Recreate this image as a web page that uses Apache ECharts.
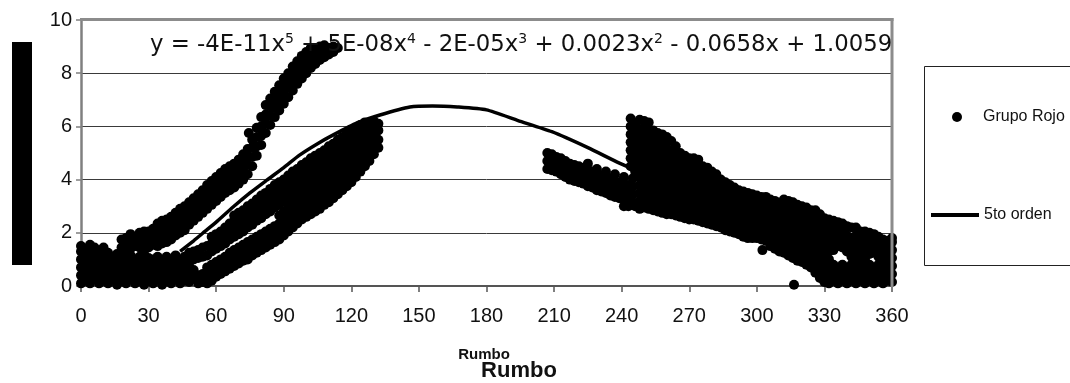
<!DOCTYPE html>
<html>
<head>
<meta charset="utf-8">
<script src="https://cdn.jsdelivr.net/npm/echarts@6.0.0/dist/echarts.min.js"></script>
<style>
  html, body { margin: 0; padding: 0; background: #fff; }
  #chart { width: 1070px; height: 383px; }
</style>
</head>
<body>
<div id="chart"></div>
<script>
// Axis ticks
const rumboTicks = [0, 30, 60, 90, 120, 150, 180, 210, 240, 270, 300, 330, 360];
const valorTicks = [0, 2, 4, 6, 8, 10];

// Observations of "Grupo Rojo", one column per rumbo: [rumbo, value, value, ...]
const bajo = [
  [0, 0.1, 0.4, 0.7, 1.0, 1.3, 1.5], [2, 0.2, 0.5, 0.8, 1.1, 1.4], [4, 0.1, 0.4, 0.7, 1.0, 1.3, 1.55],
  [6, 0.25, 0.55, 0.85, 1.15, 1.45], [8, 0.1, 0.4, 0.7, 1.0, 1.3], [10, 0.2, 0.5, 0.8, 1.1, 1.45],
  [12, 0.1, 0.4, 0.7, 1.0, 1.25], [14, 0.25, 0.55, 0.85, 1.1], [16, 0.05, 0.35, 0.65, 0.95, 1.2],
  [18, 0.2, 0.5, 0.8, 1.1], [20, 0.1, 0.4, 0.7, 1.0, 1.25], [22, 0.25, 0.55, 0.85, 1.15],
  [24, 0.1, 0.4, 0.7, 1.0], [26, 0.2, 0.5, 0.8, 1.1], [28, 0.05, 0.35, 0.65, 0.95, 1.2],
  [30, 0.2, 0.5, 0.8, 1.05], [32, 0.1, 0.4, 0.7, 1.0], [34, 0.25, 0.55, 0.85, 1.1],
  [36, 0.05, 0.35, 0.65, 0.95], [38, 0.2, 0.5, 0.8, 1.1], [40, 0.1, 0.4, 0.7, 1.0],
  [42, 0.25, 0.55, 0.85, 1.15], [44, 0.1, 0.4, 0.7, 1.0], [46, 0.2, 0.5, 0.8, 1.1],
  [48, 0.15, 0.45, 0.75], [50, 0.3, 0.6]
];
const ramaAlta = [
  [18, 1.45, 1.75], [20, 1.5, 1.8], [22, 1.4, 1.7, 1.95], [24, 1.5, 1.8], [26, 1.45, 1.75, 2.0],
  [28, 1.5, 1.8, 2.05], [30, 1.45, 1.75, 2.05], [32, 1.55, 1.85, 2.15], [34, 1.5, 1.8, 2.1, 2.35],
  [36, 1.6, 1.9, 2.2, 2.45], [38, 1.65, 1.95, 2.25, 2.5], [40, 1.75, 2.05, 2.35, 2.6],
  [42, 1.9, 2.2, 2.5, 2.75], [44, 2.0, 2.3, 2.6, 2.9], [46, 2.1, 2.4, 2.7, 3.0],
  [48, 2.3, 2.6, 2.9, 3.15], [50, 2.45, 2.75, 3.05, 3.3], [52, 2.6, 2.9, 3.2, 3.45],
  [54, 2.75, 3.05, 3.35, 3.6], [56, 2.9, 3.2, 3.5, 3.8], [58, 3.05, 3.35, 3.65, 3.95],
  [60, 3.2, 3.5, 3.8, 4.1], [62, 3.35, 3.65, 3.95, 4.25], [64, 3.5, 3.8, 4.1, 4.4],
  [66, 3.6, 3.9, 4.2, 4.5], [68, 3.7, 4.0, 4.3, 4.6], [70, 3.85, 4.15, 4.45, 4.75],
  [72, 4.0, 4.3, 4.65, 4.95], [74, 4.2, 4.55, 4.85, 5.15], [76, 4.5, 4.85, 5.2, 5.5],
  [78, 4.9, 5.25, 5.6, 5.95], [80, 5.3, 5.65, 6.0, 6.35], [82, 5.75, 6.1, 6.45, 6.8],
  [84, 6.05, 6.4, 6.75, 7.05], [86, 6.35, 6.7, 7.0, 7.3], [88, 6.6, 6.95, 7.25, 7.55],
  [90, 6.85, 7.2, 7.5, 7.8], [92, 7.1, 7.45, 7.75, 8.0], [94, 7.35, 7.7, 8.0, 8.25],
  [96, 7.6, 7.9, 8.2, 8.45], [98, 7.8, 8.1, 8.4, 8.65], [100, 8.0, 8.3, 8.6, 8.8],
  [102, 8.2, 8.5, 8.75, 8.95], [104, 8.35, 8.65, 8.9], [106, 8.5, 8.75, 9.0],
  [108, 8.6, 8.85, 9.05], [110, 8.7, 8.95], [112, 8.8, 9.0], [114, 8.95]
];
const ramaMedia = [
  [48, 0.95, 1.25], [50, 1.0, 1.3], [52, 1.05, 1.35], [54, 1.1, 1.45], [56, 1.15, 1.5],
  [58, 1.3, 1.6, 1.85], [60, 1.4, 1.7, 1.95], [62, 1.5, 1.8, 2.05], [64, 1.6, 1.9, 2.2],
  [66, 1.75, 2.05, 2.35], [68, 1.85, 2.15, 2.45, 2.65], [70, 1.95, 2.25, 2.55, 2.75],
  [72, 2.05, 2.35, 2.65, 2.85], [74, 2.2, 2.5, 2.8, 3.0], [76, 2.3, 2.6, 2.9, 3.1],
  [78, 2.45, 2.75, 3.05, 3.25], [80, 2.55, 2.85, 3.15, 3.4], [82, 2.7, 3.0, 3.3, 3.5],
  [84, 2.8, 3.1, 3.4, 3.65], [86, 2.95, 3.25, 3.55, 3.8], [88, 3.05, 3.35, 3.65, 3.9],
  [90, 3.2, 3.5, 3.8, 4.0], [92, 3.3, 3.6, 3.9, 4.15], [94, 3.45, 3.75, 4.05, 4.3],
  [96, 3.55, 3.85, 4.15, 4.4], [98, 3.7, 4.0, 4.3, 4.55], [100, 3.8, 4.1, 4.4, 4.65],
  [102, 3.95, 4.25, 4.55, 4.8], [104, 4.05, 4.35, 4.65, 4.9], [106, 4.2, 4.5, 4.8, 5.0],
  [108, 4.3, 4.6, 4.9, 5.1], [110, 4.45, 4.75, 5.05, 5.25], [112, 4.55, 4.85, 5.15, 5.35],
  [114, 4.7, 5.0, 5.3, 5.5], [116, 4.8, 5.1, 5.4, 5.6], [118, 4.95, 5.25, 5.55, 5.75],
  [120, 5.05, 5.35, 5.65, 5.85], [122, 5.2, 5.5, 5.8, 5.95], [124, 5.3, 5.6, 5.9, 6.05],
  [126, 5.45, 5.75, 6.0, 6.15], [128, 5.6, 5.9, 6.1], [130, 5.7, 6.0, 6.2], [132, 5.85, 6.1]
];
const ramaBaja = [
  [52, 0.1, 0.4], [54, 0.15, 0.45], [56, 0.1, 0.4, 0.7], [58, 0.2, 0.5, 0.8], [60, 0.35, 0.65, 0.9],
  [62, 0.45, 0.75, 1.0], [64, 0.55, 0.85, 1.1], [66, 0.65, 0.95, 1.25], [68, 0.75, 1.05, 1.35],
  [70, 0.85, 1.15, 1.45], [72, 0.95, 1.25, 1.55], [74, 1.0, 1.3, 1.65], [76, 1.15, 1.45, 1.75],
  [78, 1.25, 1.55, 1.85], [80, 1.35, 1.65, 1.95], [82, 1.45, 1.75, 2.05], [84, 1.55, 1.85, 2.15],
  [86, 1.65, 1.95, 2.25], [88, 1.75, 2.05, 2.35, 2.65], [90, 1.9, 2.2, 2.5, 2.8],
  [92, 2.05, 2.35, 2.65, 2.95], [94, 2.2, 2.5, 2.8, 3.1], [96, 2.35, 2.65, 2.95, 3.25],
  [98, 2.5, 2.8, 3.1, 3.4], [100, 2.6, 2.9, 3.2, 3.5], [102, 2.7, 3.0, 3.3, 3.65],
  [104, 2.8, 3.1, 3.4, 3.75], [106, 2.9, 3.2, 3.5, 3.85], [108, 3.05, 3.35, 3.65, 4.0],
  [110, 3.15, 3.45, 3.75, 4.1], [112, 3.3, 3.6, 3.9, 4.25], [114, 3.45, 3.75, 4.05, 4.4],
  [116, 3.6, 3.9, 4.2, 4.55], [118, 3.75, 4.05, 4.35, 4.7], [120, 3.9, 4.2, 4.5, 4.85],
  [122, 4.1, 4.4, 4.7, 5.0], [124, 4.3, 4.6, 4.9], [126, 4.5, 4.8, 5.1], [128, 4.7, 5.0, 5.3],
  [130, 4.95, 5.25, 5.5], [132, 5.2, 5.5]
];
const grupoOeste = [
  [207, 4.4, 4.7, 5.0], [209, 4.35, 4.65, 4.95], [211, 4.3, 4.55, 4.85], [213, 4.2, 4.5, 4.8],
  [215, 4.1, 4.4, 4.7], [217, 4.0, 4.3, 4.6], [219, 3.95, 4.25, 4.55], [221, 3.9, 4.2, 4.5],
  [223, 3.85, 4.15, 4.45], [225, 3.75, 4.05, 4.35, 4.6], [227, 3.7, 4.0, 4.3],
  [229, 3.6, 3.9, 4.2, 4.4], [231, 3.55, 3.85, 4.15], [233, 3.5, 3.8, 4.1, 4.3],
  [235, 3.4, 3.7, 4.0], [237, 3.35, 3.65, 3.95, 4.2], [239, 3.3, 3.6, 3.9],
  [241, 3.0, 3.25, 3.55, 3.85, 4.1], [243, 3.0, 3.2, 3.5, 3.8], [245, 3.15, 3.45, 3.75, 4.05]
];
const grupoEste = [
  [244, 4.5, 4.8, 5.1, 5.4, 5.7, 6.0, 6.3],
  [246, 3.0, 4.3, 4.6, 4.9, 5.2, 5.5, 5.8, 6.1],
  [248, 2.9, 3.2, 3.5, 3.8, 4.1, 4.4, 4.7, 5.0, 5.3, 5.6, 5.9, 6.25],
  [250, 2.95, 3.25, 3.55, 3.85, 4.15, 4.45, 4.75, 5.05, 5.35, 5.65, 5.95, 6.2],
  [252, 2.9, 3.2, 3.5, 3.8, 4.1, 4.4, 4.7, 5.0, 5.3, 5.6, 5.9, 6.15],
  [254, 2.85, 3.15, 3.45, 3.75, 4.05, 4.35, 4.65, 4.95, 5.25, 5.55, 5.85],
  [256, 2.8, 3.1, 3.4, 3.7, 4.0, 4.3, 4.6, 4.9, 5.2, 5.5, 5.75],
  [258, 2.75, 3.05, 3.35, 3.65, 3.95, 4.25, 4.55, 4.85, 5.15, 5.45, 5.7],
  [260, 2.7, 3.0, 3.3, 3.6, 3.9, 4.2, 4.5, 4.8, 5.1, 5.4, 5.6],
  [262, 2.7, 3.0, 3.3, 3.6, 3.9, 4.2, 4.5, 4.8, 5.1, 5.45],
  [264, 2.65, 2.95, 3.25, 3.55, 3.85, 4.15, 4.45, 4.75, 5.0, 5.25],
  [266, 2.6, 2.9, 3.2, 3.5, 3.8, 4.1, 4.4, 4.7, 5.0],
  [268, 2.55, 2.85, 3.15, 3.45, 3.75, 4.05, 4.35, 4.65, 4.9],
  [270, 2.5, 2.8, 3.1, 3.4, 3.7, 4.0, 4.3, 4.6, 4.8],
  [272, 2.5, 2.8, 3.1, 3.4, 3.7, 4.0, 4.3, 4.55, 4.8],
  [274, 2.45, 2.75, 3.05, 3.35, 3.65, 3.95, 4.25, 4.55, 4.75],
  [276, 2.4, 2.7, 3.0, 3.3, 3.6, 3.9, 4.2, 4.5],
  [278, 2.35, 2.65, 2.95, 3.25, 3.55, 3.85, 4.15, 4.45],
  [280, 2.3, 2.6, 2.9, 3.2, 3.5, 3.8, 4.1, 4.3],
  [282, 2.25, 2.55, 2.85, 3.15, 3.45, 3.75, 4.05, 4.2],
  [284, 2.2, 2.5, 2.8, 3.1, 3.4, 3.7, 4.0],
  [286, 2.1, 2.4, 2.7, 3.0, 3.3, 3.6, 3.9],
  [288, 2.05, 2.35, 2.65, 2.95, 3.25, 3.55, 3.8],
  [290, 2.0, 2.3, 2.6, 2.9, 3.2, 3.5, 3.7],
  [292, 1.95, 2.25, 2.55, 2.85, 3.15, 3.45, 3.6],
  [294, 1.85, 2.15, 2.45, 2.75, 3.05, 3.35, 3.55],
  [296, 1.8, 2.1, 2.4, 2.7, 3.0, 3.3, 3.5],
  [298, 1.8, 2.05, 2.35, 2.65, 2.95, 3.25, 3.45],
  [300, 1.8, 2.05, 2.3, 2.6, 2.9, 3.2, 3.4],
  [302, 1.75, 2.0, 2.25, 2.55, 2.85, 3.15, 3.35],
  [304, 1.7, 1.95, 2.2, 2.45, 2.75, 3.05, 3.35],
  [306, 1.5, 1.8, 2.1, 2.4, 2.7, 3.0, 3.25],
  [308, 1.4, 1.7, 2.0, 2.3, 2.6, 2.9, 3.2],
  [310, 1.3, 1.6, 1.9, 2.2, 2.5, 2.8, 3.1],
  [312, 1.25, 1.55, 1.85, 2.15, 2.45, 2.75, 3.05, 3.25],
  [314, 1.15, 1.45, 1.75, 2.05, 2.35, 2.65, 2.95, 3.2],
  [316, 1.05, 1.35, 1.65, 1.95, 2.25, 2.55, 2.85, 3.15],
  [318, 0.95, 1.25, 1.55, 1.85, 2.15, 2.45, 2.75, 3.05],
  [320, 0.9, 1.2, 1.5, 1.8, 2.1, 2.4, 2.7, 3.0],
  [322, 0.8, 1.1, 1.4, 1.7, 2.0, 2.3, 2.6, 2.95],
  [324, 0.7, 1.0, 1.3, 1.6, 1.9, 2.2, 2.5, 2.85],
  [326, 0.5, 0.8, 1.1, 1.4, 1.7, 2.0, 2.3, 2.6, 2.85],
  [328, 0.3, 0.6, 0.9, 1.2, 1.5, 1.8, 2.1, 2.4, 2.7],
  [330, 0.15, 0.45, 0.75, 1.05, 1.35, 1.65, 1.95, 2.25, 2.55],
  [332, 0.1, 0.4, 0.7, 1.0, 1.3, 1.6, 1.9, 2.2, 2.5],
  [334, 0.2, 0.5, 0.8, 1.35, 1.6, 1.9, 2.2, 2.45],
  [336, 0.1, 0.4, 0.7, 1.5, 1.8, 2.1, 2.4],
  [338, 0.2, 0.5, 0.8, 1.45, 1.75, 2.05, 2.35],
  [340, 0.1, 0.4, 0.7, 1.3, 1.6, 1.9, 2.25],
  [342, 0.2, 0.5, 0.8, 1.1, 1.5, 1.8, 2.2],
  [344, 0.1, 0.4, 0.7, 1.0, 1.3, 1.6, 1.9, 2.2],
  [346, 0.2, 0.5, 0.8, 1.1, 1.4, 1.7, 2.05],
  [348, 0.1, 0.4, 0.7, 1.0, 1.3, 1.6, 1.9, 2.05],
  [350, 0.2, 0.5, 0.8, 1.2, 1.45, 1.7, 2.0],
  [352, 0.1, 0.4, 0.7, 1.25, 1.5, 1.8, 1.95],
  [354, 0.2, 0.5, 0.8, 1.1, 1.4, 1.7, 1.85],
  [356, 0.1, 0.4, 0.7, 1.0, 1.3, 1.55, 1.75],
  [358, 0.2, 0.5, 0.8, 1.1, 1.4, 1.7],
  [360, 0.15, 0.45, 0.75, 1.05, 1.35, 1.65, 1.8]
];
// Isolated observations
const sueltos = [[74.5, 5.75], [302.5, 1.35], [316.5, 0.05]];

// Fifth-order trend ("5to orden"), [rumbo, value]
const tendencia = [
  [44, 1.3], [50, 1.7], [55, 2.05], [60, 2.4], [67.5, 2.97], [75, 3.5], [82.5, 3.98],
  [90, 4.45], [97, 4.92], [105, 5.35], [112, 5.68], [122.5, 6.13], [132.7, 6.43],
  [146, 6.73], [156, 6.77], [167, 6.73], [180, 6.62], [194, 6.22], [209, 5.8],
  [225, 5.2], [239, 4.62], [254, 4.06], [259, 3.88]
];

function columnsToPoints(cols) {
  const pts = [];
  cols.forEach(c => { for (let i = 1; i < c.length; i++) pts.push([c[0], c[i]]); });
  return pts;
}

const grupoRojo = [].concat(
  columnsToPoints(bajo), columnsToPoints(ramaAlta), columnsToPoints(ramaMedia),
  columnsToPoints(ramaBaja), columnsToPoints(grupoOeste), columnsToPoints(grupoEste), sueltos
);

const chart = echarts.init(document.getElementById('chart'), null, { renderer: 'canvas' });
const labelFont = 'Liberation Sans, Arial, sans-serif';

chart.setOption({
  animation: false,
  backgroundColor: '#fff',
  grid: { left: 81, right: 178, top: 20, bottom: 97, containLabel: false },
  xAxis: {
    type: 'value',
    min: rumboTicks[0], max: rumboTicks[rumboTicks.length - 1], interval: rumboTicks[1] - rumboTicks[0],
    axisLine: { show: true, onZero: false, lineStyle: { color: '#555', width: 2 } },
    axisTick: { show: true, length: 6, lineStyle: { color: '#555', width: 1.5 } },
    axisLabel: { fontSize: 20, color: '#111', fontFamily: labelFont, margin: 20 },
    splitLine: { show: false }
  },
  yAxis: {
    type: 'value',
    min: valorTicks[0], max: valorTicks[valorTicks.length - 1], interval: valorTicks[1] - valorTicks[0],
    axisLine: { show: true, lineStyle: { color: '#808080', width: 2.5 } },
    axisTick: { show: true, length: 5, lineStyle: { color: '#808080', width: 1.5 } },
    axisLabel: { fontSize: 20, color: '#111', fontFamily: labelFont, margin: 9 },
    splitLine: { show: true, lineStyle: { color: '#3a3a3a', width: 1 } }
  },
  legend: [
    {
      data: ['Grupo Rojo'], left: 952, top: 109, orient: 'vertical', padding: 0,
      itemWidth: 10, itemHeight: 10, selectedMode: false,
      textStyle: { fontSize: 16, color: '#111', fontFamily: labelFont, padding: [0, 0, 0, 16] }
    },
    {
      data: [{ name: '5to orden', icon: 'rect' }], left: 931, top: 207, orient: 'vertical', padding: 0,
      itemWidth: 48, itemHeight: 4, selectedMode: false,
      textStyle: { fontSize: 16, color: '#111', fontFamily: labelFont }
    }
  ],
  graphic: [
    { type: 'rect', shape: { x: 12, y: 42, width: 20, height: 223 }, style: { fill: '#000' } },
    { type: 'rect', z: 0, shape: { x: 924.5, y: 66.5, width: 170, height: 199 },
      style: { fill: 'none', stroke: '#222', lineWidth: 1 } },
    { type: 'line', z: 20, shape: { x1: 80, y1: 19.5, x2: 893.5, y2: 19.5 },
      style: { stroke: '#8c8c8c', lineWidth: 3 } },
    { type: 'line', z: 20, shape: { x1: 892, y1: 18, x2: 892, y2: 287 },
      style: { stroke: '#8c8c8c', lineWidth: 3 } },
    {
      type: 'text', z: 30, x: 150, y: 45,
      style: {
        text: '{m|y = -4E-11x}{s|5}{m| + 5E-08x}{s|4}{m| - 2E-05x}{s|3}{m| + 0.0023x}{s|2}{m| - 0.0658x + 1.0059}',
        verticalAlign: 'middle', align: 'left',
        rich: {
          m: { fontSize: 22.8, fontFamily: 'DejaVu Sans', fill: '#111', lineHeight: 26 },
          s: { fontSize: 14, fontFamily: 'DejaVu Sans', fill: '#111', verticalAlign: 'top', lineHeight: 14 }
        }
      }
    },
    { type: 'text', x: 484, y: 355, style: { text: 'Rumbo', fill: '#111', align: 'center', verticalAlign: 'middle',
      font: 'bold 15px Liberation Sans, Arial, sans-serif' } },
    { type: 'text', x: 519, y: 371, style: { text: 'Rumbo', fill: '#111', align: 'center', verticalAlign: 'middle',
      font: 'bold 22px Liberation Sans, Arial, sans-serif' } }
  ],
  series: [
    {
      name: 'Grupo Rojo', type: 'scatter', data: grupoRojo, symbol: 'circle', symbolSize: 10,
      clip: false, itemStyle: { color: '#000', opacity: 1 }, z: 2
    },
    {
      name: '5to orden', type: 'line', data: tendencia, symbol: 'none', smooth: 0.2,
      lineStyle: { color: '#000', width: 3.5 }, itemStyle: { color: '#000' }, z: 3
    }
  ]
});
</script>
</body>
</html>
